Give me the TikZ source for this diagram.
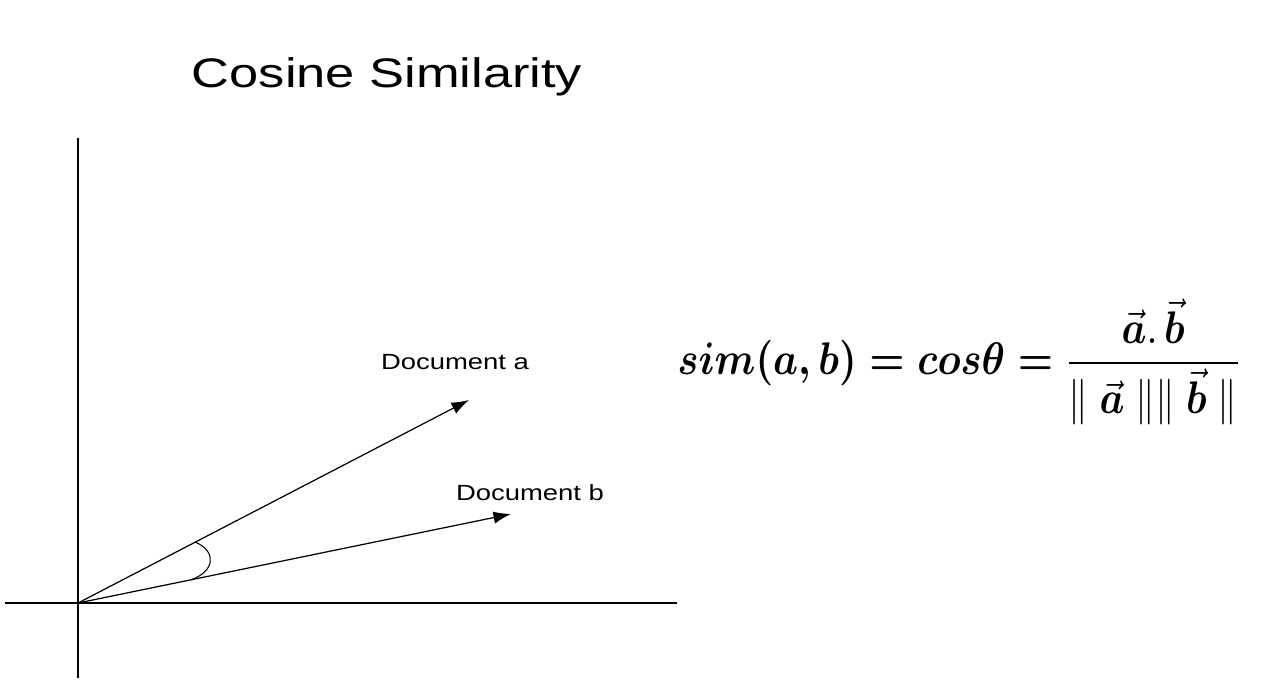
\documentclass[tikz,border=0pt]{standalone}
\usepackage{amsmath}
\usepackage{graphicx}
\usepackage{fontspec}
\setmainfont{Liberation Sans}
\usetikzlibrary{arrows.meta,calc}

\newcommand{\veca}{\vec{\boldsymbol{a}}}
\newcommand{\vecb}{\vec{\boldsymbol{b}}}

\tikzset{
  axis/.style={line width=0.75pt},
  docvec/.style={line width=0.7pt, -{Latex[length=10pt,width=7pt]}},
  doclabel/.style={font=\fontsize{12.5}{15}\selectfont, xscale=1.25, transform shape},
}

\begin{document}
\begin{tikzpicture}[x=0.02cm, y=-0.02cm]
  \useasboundingbox (0,0) rectangle (1280,698);

  % Title
  \node[font=\fontsize{23.5}{28}\selectfont, xscale=1.27, transform shape] (title) at (387,77) {Cosine Similarity};

  % Axes
  \coordinate (O) at (78,603);
  \coordinate (ytop) at (78,138);
  \coordinate (ybot) at (78,678);
  \coordinate (xleft) at (5,603);
  \coordinate (xright) at (677,603);
  \draw[axis] (ybot) -- (ytop);
  \draw[axis] (xleft) -- (xright);

  % Document vectors
  \coordinate (tipA) at (469,400);
  \coordinate (tipB) at (511,514);
  \draw[docvec] (O) -- (tipA);
  \draw[docvec] (O) -- (tipB);

  \node[doclabel] (labA) at (455,362) {Document a};
  \node[doclabel] (labB) at (530,493) {Document b};

  % Angle between the vectors
  \coordinate (angA) at ($(O)!0.30!(tipA)$);
  \coordinate (angB) at ($(O)!0.26!(tipB)$);
  \draw[line width=0.6pt] (angA) .. controls (218,552) and (214,572) .. (angB);

  % Formula
  \node (formula) at (960,362) {\scalebox{2.25}[2.6]{$\displaystyle \boldsymbol{sim(a,b) = cos\theta =} \frac{\veca.\,\vecb}{\Vert\;\veca\;\Vert\Vert\;\vecb\;\Vert}$}};
\end{tikzpicture}
\end{document}
